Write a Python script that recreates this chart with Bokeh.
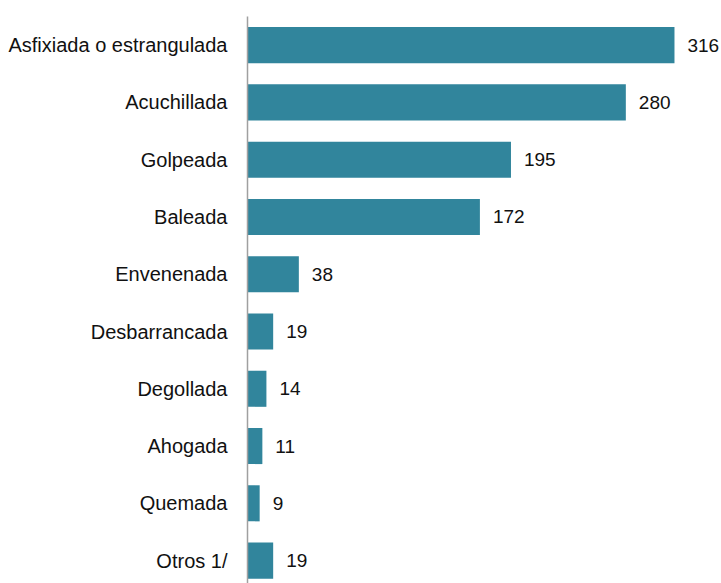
from bokeh.plotting import figure
from bokeh.models import Range1d, FixedTicker, ColumnDataSource
from bokeh.embed import file_html
from bokeh.resources import INLINE
from bokeh.core.properties import value

categories = ["Asfixiada o estrangulada", "Acuchillada", "Golpeada", "Baleada",
              "Envenenada", "Desbarrancada", "Degollada", "Ahogada", "Quemada", "Otros 1/"]
values = [316, 280, 195, 172, 38, 19, 14, 11, 9, 19]

pos = list(range(len(categories)))
src = ColumnDataSource(dict(y=pos, v=values, lbl=[str(v) for v in values]))

p = figure(width=721, height=583, output_backend="svg", toolbar_location=None,
           x_range=Range1d(0, 350.8), y_range=Range1d(9.4, -0.5),
           min_border_left=247, min_border_right=0, min_border_top=16, min_border_bottom=0)

p.hbar(y="y", right="v", left=0, height=0.63, source=src,
       fill_color="#31859C", line_color=None)
p.text(x="v", y="y", text="lbl", source=src, x_offset=13,
       text_baseline="middle", text_align="left",
       text_font=value("Liberation Sans"), text_font_size="19px", text_color="#111111")

p.xaxis.visible = False
p.grid.visible = False
p.outline_line_color = None

ya = p.yaxis[0]
ya.ticker = FixedTicker(ticks=pos)
ya.major_label_overrides = {i: c for i, c in zip(pos, categories)}
ya.major_tick_line_color = None
ya.minor_tick_line_color = None
ya.major_tick_out = 0
ya.major_tick_in = 0
ya.major_label_standoff = 20
ya.axis_line_color = "#a0a0a0"
ya.axis_line_width = 1.5
ya.major_label_text_font = "Liberation Sans"
ya.major_label_text_font_size = "20px"
ya.major_label_text_color = "#111111"

open("out.html", "w").write(file_html(p, INLINE))
